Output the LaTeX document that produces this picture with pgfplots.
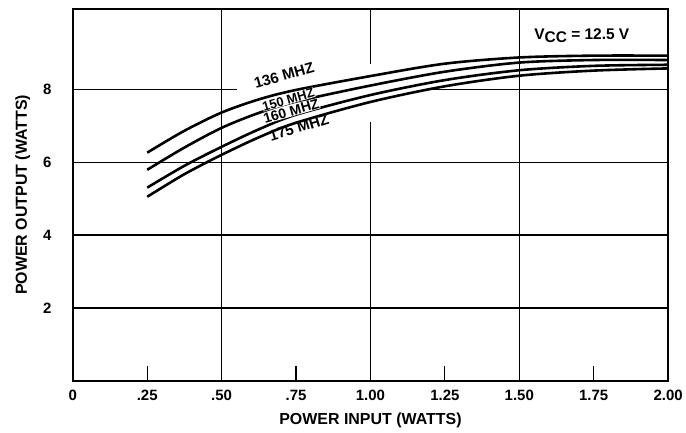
\documentclass[border=0pt]{standalone}
\usepackage{fontspec}
\setmainfont{Liberation Sans}
\usepackage{pgfplots}
\usepackage{pgfplotstable}
\pgfplotsset{compat=1.18}
\pgfplotstableread{
x y
0.25 6.26
0.375 6.86
0.50 7.36
0.625 7.72
0.75 7.98
1.00 8.36
1.25 8.70
1.50 8.87
1.75 8.92
2.00 8.92
}\fa
\pgfplotstableread{
x y
0.25 5.79
0.375 6.40
0.50 6.94
0.625 7.35
0.75 7.66
1.00 8.10
1.25 8.48
1.50 8.73
1.75 8.80
2.00 8.80
}\fb
\pgfplotstableread{
x y
0.25 5.30
0.375 5.90
0.50 6.42
0.625 6.90
0.75 7.30
1.00 7.84
1.25 8.25
1.50 8.52
1.75 8.64
2.00 8.67
}\fc
\pgfplotstableread{
x y
0.25 5.05
0.375 5.67
0.50 6.20
0.625 6.68
0.75 7.08
1.00 7.65
1.25 8.08
1.50 8.37
1.75 8.51
2.00 8.57
}\fd
\begin{document}
\begin{tikzpicture}
\begin{axis}[
  at={(0,0)}, anchor=south west,
  scale only axis, width=597pt, height=373pt,
  xmin=0, xmax=2, ymin=0, ymax=10.2,
  axis line style={line width=2.2pt},
  xtick={0,0.25,0.5,0.75,1,1.25,1.5,1.75,2},
  xticklabels={0,.25,.50,.75,1.00,1.25,1.50,1.75,2.00},
  ytick={2,4,6,8},
  major tick length=0pt,
  /pgf/number format/assume math mode=true,
  tick label style={font=\fontsize{15}{17}\selectfont\bfseries},
  yticklabel style={xshift=-18pt},
  xticklabel style={yshift=-6pt},
  label style={font=\fontsize{16}{18}\selectfont\bfseries},
  xlabel={POWER INPUT (WATTS)},
  ylabel={POWER OUTPUT (WATTS)},
  xlabel style={at={(axis description cs:0.5,-0.107)}, anchor=center},
  ylabel style={at={(axis description cs:-0.084,0.5)}, anchor=center},
]
% grid
\draw[line width=1.2pt] (axis cs:0.5,0) -- (axis cs:0.5,10.2);
\draw[line width=1.2pt] (axis cs:1,0) -- (axis cs:1,7.1);
\draw[line width=1.2pt] (axis cs:1,8.7) -- (axis cs:1,10.2);
\draw[line width=1.2pt] (axis cs:1.5,0) -- (axis cs:1.5,10.2);
\draw[line width=1.2pt] (axis cs:0,2) -- (axis cs:2,2);
\draw[line width=1.2pt] (axis cs:0,4) -- (axis cs:2,4);
\draw[line width=1.2pt] (axis cs:0,6) -- (axis cs:2,6);
\draw[line width=1.2pt] (axis cs:0,8) -- (axis cs:0.55,8);
\draw[line width=1.2pt] (axis cs:1.2,8) -- (axis cs:2,8);
\foreach \t in {0.25,0.75,1.25,1.75}{
  \edef\tmp{\noexpand\draw[line width=1.2pt] (axis cs:\t,0) -- (axis cs:\t,0.42);}\tmp
}
\addplot[black, line width=2.6pt, smooth, tension=0.5] table[x=x,y=y]{\fa};
\addplot[black, line width=2.6pt, smooth, tension=0.5] table[x=x,y=y]{\fb};
\addplot[black, line width=2.6pt, smooth, tension=0.5] table[x=x,y=y]{\fc};
\addplot[black, line width=2.6pt, smooth, tension=0.5] table[x=x,y=y]{\fd};
\node[rotate=16, font=\fontsize{15}{17}\selectfont\bfseries] at (axis cs:0.71,8.38) {136 MHZ};
\node[rotate=16, fill=white, inner sep=0.3pt, font=\fontsize{13}{14}\selectfont\bfseries] at (axis cs:0.724,7.72) {150 MHZ};
\node[rotate=16, fill=white, inner sep=0.3pt, font=\fontsize{14}{15}\selectfont\bfseries] at (axis cs:0.734,7.40) {160 MHZ};
\node[rotate=17, font=\fontsize{15}{17}\selectfont\bfseries] at (axis cs:0.76,6.95) {175 MHZ};
\node[font=\fontsize{15.5}{17}\selectfont\bfseries] at (axis cs:1.71,9.48) {V\raisebox{-3pt}{CC} = 12.5 V};
\end{axis}
\useasboundingbox (-73pt,-52pt) rectangle (613pt,382pt);
\end{tikzpicture}
\end{document}
